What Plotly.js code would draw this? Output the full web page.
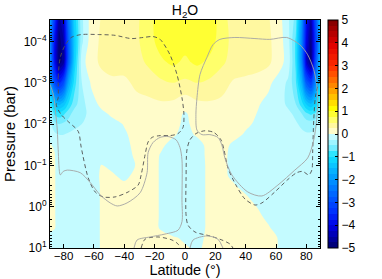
<!DOCTYPE html>
<html>
<head>
<meta charset="utf-8">
<script src="https://cdn.plot.ly/plotly-3.0.1.min.js"></script>
<style>
html,body{margin:0;padding:0;background:#fff;}
#chart{width:382px;height:279px;}
</style>
</head>
<body>
<div id="chart"></div>
<script>
// ---- data ----
var latitude = [-89,-86,-83,-80,-77,-73,-68,-62,-55,-48,-40,-32,-24,-16,-8,0,8,16,24,32,40,48,55,62,68,73,77,80,83,86,89];
var pressure = [10,5.6,3.2,1.8,1,0.56,0.32,0.18,0.1,0.056,0.032,0.018,0.01,0.0056,0.0032,0.001,0.00032,0.0001,0.00003];
var h2o = [
 [-0.10,-0.15,-0.15,-0.15,-0.15,-0.15,-0.15,-0.10, 0.02, 0.10, 0.10, 0.10, 0.10, 0.10, 0.05, 0.02,-0.03, 0.05, 0.10, 0.10, 0.10, 0.10, 0.05,-0.01,-0.10,-0.15,-0.15,-0.15,-0.15,-0.15,-0.15],
 [-0.05,-0.10,-0.15,-0.15,-0.15,-0.15,-0.15,-0.10, 0.02, 0.10, 0.10, 0.10, 0.10, 0.06, 0.02,-0.03,-0.05, 0.04, 0.10, 0.10, 0.10, 0.10, 0.05,-0.01,-0.10,-0.15,-0.15,-0.15,-0.15,-0.15,-0.15],
 [ 0.05, 0.02,-0.10,-0.15,-0.15,-0.15,-0.15,-0.10, 0.02, 0.10, 0.10, 0.10, 0.10,-0.02,-0.12,-0.12,-0.10, 0.05, 0.10, 0.10, 0.10, 0.08, 0.02,-0.10,-0.15,-0.15,-0.15,-0.15,-0.15,-0.15,-0.15],
 [ 0.05, 0.02,-0.10,-0.15,-0.15,-0.15,-0.15,-0.10, 0.02, 0.10, 0.10, 0.10, 0.10,-0.02,-0.12,-0.12,-0.10, 0.05, 0.10, 0.10, 0.10, 0.05,-0.05,-0.12,-0.15,-0.15,-0.15,-0.15,-0.15,-0.15,-0.15],
 [ 0.05, 0.02,-0.10,-0.15,-0.15,-0.15,-0.15,-0.10, 0.02, 0.10, 0.10, 0.10, 0.10,-0.02,-0.12,-0.12,-0.10, 0.05, 0.10, 0.10, 0.08,-0.01,-0.10,-0.12,-0.15,-0.15,-0.15,-0.15,-0.15,-0.15,-0.15],
 [ 0.05, 0.02,-0.10,-0.15,-0.15,-0.15,-0.15,-0.10, 0.02, 0.10, 0.10, 0.10, 0.10,-0.02,-0.12,-0.12,-0.10, 0.05, 0.10, 0.08, 0.02,-0.10,-0.12,-0.12,-0.15,-0.15,-0.15,-0.15,-0.15,-0.15,-0.15],
 [ 0.05, 0.02,-0.10,-0.15,-0.15,-0.15,-0.15,-0.10, 0.02, 0.08, 0.05, 0.10, 0.10,-0.02,-0.12,-0.12,-0.10, 0.05, 0.08, 0.03,-0.08,-0.12,-0.12,-0.12,-0.15,-0.15,-0.15,-0.15,-0.15,-0.15,-0.15],
 [ 0.05, 0.02,-0.10,-0.15,-0.15,-0.15,-0.15,-0.10, 0.03, 0.03,-0.05, 0.06, 0.10,-0.02,-0.12,-0.12,-0.10, 0.05, 0.06,-0.05,-0.12,-0.12,-0.12,-0.12,-0.15,-0.15,-0.15,-0.15,-0.15,-0.15,-0.15],
 [ 0.05, 0.02,-0.10,-0.15,-0.15,-0.15,-0.15,-0.10, 0.01,-0.05,-0.08, 0.01, 0.10,-0.02,-0.12,-0.12,-0.10, 0.05, 0.05,-0.05,-0.12,-0.12,-0.12,-0.12,-0.15,-0.15,-0.15,-0.15,-0.15,-0.15,-0.15],
 [ 0.04, 0.01,-0.12,-0.15,-0.15,-0.15,-0.15,-0.15,-0.10,-0.08,-0.04, 0.02, 0.08,-0.01,-0.10,-0.10,-0.08, 0.05, 0.05,-0.05,-0.12,-0.12,-0.12,-0.12,-0.15,-0.15,-0.15,-0.15,-0.15,-0.15,-0.15],
 [ 0.01,-0.02,-0.15,-0.18,-0.18,-0.16,-0.15,-0.15,-0.12,-0.10,-0.03, 0.03, 0.10, 0.03,-0.05,-0.08,-0.06, 0.05, 0.06,-0.03,-0.12,-0.12,-0.12,-0.12,-0.15,-0.15,-0.15,-0.18,-0.18,-0.18,-0.15],
 [-0.10,-0.20,-0.25,-0.25,-0.22,-0.20,-0.18,-0.15,-0.12,-0.08,-0.02, 0.05, 0.10, 0.10, 0.02,-0.05, 0.02, 0.10, 0.10, 0.05,-0.02,-0.12,-0.12,-0.15,-0.15,-0.18,-0.20,-0.22,-0.22,-0.20,-0.15],
 [-0.20,-0.40,-0.50,-0.45,-0.40,-0.30,-0.25,-0.20,-0.15,-0.05, 0.01, 0.08, 0.12, 0.12, 0.05,-0.03, 0.05, 0.12, 0.12, 0.10, 0.03,-0.03,-0.12,-0.15,-0.18,-0.22,-0.30,-0.35,-0.35,-0.30,-0.20],
 [-0.40,-0.80,-0.90,-0.80,-0.60,-0.40,-0.30,-0.20,-0.04, 0.03, 0.08, 0.12, 0.15, 0.15, 0.08,-0.02, 0.08, 0.15, 0.15, 0.12, 0.08,-0.01,-0.10,-0.15,-0.20,-0.30,-0.50,-0.70,-0.80,-0.70,-0.40],
 [-0.80,-1.40,-1.60,-1.40,-1.00,-0.60,-0.35,-0.08, 0.05, 0.12, 0.15, 0.18, 0.20, 0.22, 0.20, 0.10, 0.20, 0.22, 0.20, 0.18, 0.12, 0.02,-0.06,-0.15,-0.30,-0.50,-0.90,-1.30,-1.50,-1.20,-0.70],
 [-1.80,-3.00,-3.50,-3.00,-1.80,-0.90,-0.25, 0.02, 0.15, 0.20, 0.20, 0.30, 0.35, 0.45, 0.50, 0.45, 0.50, 0.45, 0.35, 0.22, 0.20, 0.20, 0.05,-0.10,-0.30,-0.70,-1.60,-2.80,-3.20,-2.20,-1.20],
 [-2.00,-3.80,-4.90,-4.60,-2.80,-1.20,-0.10, 0.15, 0.30, 0.35, 0.35, 0.40, 0.55, 0.70, 0.80, 0.70, 0.80, 0.70, 0.55, 0.40, 0.35, 0.30, 0.30, 0.10,-0.10,-0.80,-2.20,-4.20,-4.80,-3.00,-1.50],
 [-2.00,-3.80,-4.90,-4.50,-2.80,-1.30,-0.30, 0.12, 0.30, 0.35, 0.40, 0.45, 0.65, 0.85, 0.90, 0.85, 0.90, 0.85, 0.65, 0.40, 0.35, 0.35, 0.30, 0.12,-0.15,-0.80,-2.20,-4.00,-4.80,-3.30,-1.80],
 [-1.80,-3.30,-4.60,-4.20,-2.50,-1.20,-0.30, 0.10, 0.27, 0.30, 0.35, 0.45, 0.65, 0.90, 0.95, 0.90, 0.95, 0.90, 0.65, 0.35, 0.30, 0.30, 0.27, 0.10,-0.20,-0.60,-2.00,-3.80,-4.50,-3.00,-1.50]
];

// overlaid contour lines (latitude in degrees, pressure in bar)
var dashLoopLat = [-83.6,-83.6,-82.2,-78.9,-75.0,-68.4,-57.2,-46.1,-35.5,-27.6,-21.1,-16.4,-9.9,-5.3,-2.0,-0.7,-1.3,-4.6,-9.9,-16.4,-21.7,-24.3,-26.3,-28.9,-30.9,-37.5,-46.1,-53.9,-59.2,-63.8,-68.4,-70.4,-77.0,-81.6,-84.9,-83.6];
var dashLoopP = [2.3e-3,7.4e-4,2.4e-4,1.2e-4,8.0e-5,6.8e-5,6.8e-5,7.1e-5,8.5e-5,8.0e-5,7.6e-5,8.9e-5,2.1e-4,6.3e-4,2.3e-3,5.9e-3,1.2e-2,1.7e-2,1.9e-2,1.9e-2,2.1e-2,2.7e-2,5.5e-2,0.17,0.30,0.44,0.58,0.58,0.44,0.20,3.7e-2,1.5e-2,8.7e-3,5.9e-3,3.4e-3,2.3e-3];
var dashRightLat = [89,86.2,84.9,84.2,83.6,81.6,77.6,73.7,67.8,59.2,50.7,46.1,39.5,33.6,28.3,25.7,23.7,19.1,13.2,7.2,3.3,1.3,0.7,0.7,2.0,6.6,16.4,24.3,29.6,31.6];
var dashRightP = [8.5e-4,1.9e-3,7.8e-3,4.2e-2,0.13,0.17,0.14,0.15,0.22,0.44,0.81,0.91,0.65,0.30,0.115,4.2e-2,2.4e-2,1.6e-2,1.45e-2,1.7e-2,2.4e-2,4.2e-2,0.22,1.58,2.8,4.1,5.1,6.4,8.0,10];
var dashSmallLat = [-28.9,-26.3,-17.8,-8.6,-4.6,-3.3];
var dashSmallP = [10,6.1,5.4,6.4,8.0,10];
var solidLeftLat = [-89,-86.8,-85.5,-84.2,-83.6,-82.2,-80.3,-77.6,-69.1,-62.5,-55.9,-49.3,-44.7,-38.2,-29.6,-25.0,-24.3,-21.1,-16.4,-11.2,-5.9,-3.3,-2.0,-2.0,-2.0,-4.6,-13.2,-23.0,-31.6,-33.6];
var solidLeftP = [1.1e-3,1.9e-3,4.5e-3,1.4e-2,4.2e-2,0.17,0.14,0.13,0.15,0.26,0.52,0.81,0.96,0.81,0.46,0.15,4.9e-2,2.8e-2,2.1e-2,2.0e-2,2.4e-2,3.7e-2,7.3e-2,0.68,2.3,3.7,4.6,5.4,6.4,10];
var solidLoopLat = [7.9,9.9,14.5,18.4,23.0,32.9,46.1,55.9,67.1,75.7,80.9,84.9,86.8,87.5,86.8,84.9,80.9,72.4,61.2,50.7,41.4,30.9,26.3,24.3,21.7,16.4,11.2,7.9,7.2,7.9];
var solidLoopP = [2.3e-3,6.3e-4,2.4e-4,1.2e-4,8.9e-5,8.0e-5,8.5e-5,8.9e-5,8.0e-5,1.2e-4,2.1e-4,4.8e-4,1.1e-3,2.6e-3,7.8e-3,2.4e-2,6.6e-2,0.13,0.30,0.55,0.44,0.17,6.6e-2,3.2e-2,2.1e-2,1.8e-2,1.8e-2,1.4e-2,5.9e-3,2.3e-3];
var solidSmallLat = [3.3,5.3,14.5,21.7,25.0];
var solidSmallP = [10,6.4,5.1,6.1,10];

var xTickVals = [-80,-60,-40,-20,0,20,40,60,80];
var yTickVals = [10,1,0.1,0.01,0.001,0.0001];
var yTickText = ['10<sup>1</sup>','10<sup>0</sup>','10<sup>\u22121</sup>','10<sup>\u22122</sup>','10<sup>\u22123</sup>','10<sup>\u22124</sup>'];
var cbTickVals = [-5,-4,-3,-2,-1,0,1,2,3,4,5];

// ---- colour scale (value -> colour), mapped onto contour level span ----
var cStart = -5, cEnd = 5, cSize = 0.25;
var stops = [
 [-5.125,'#00006a'],[-4.625,'#0000a8'],[-4.125,'#0000e6'],[-3.5,'#0030ff'],[-3.0,'#0050ff'],
 [-2.0,'#009aff'],[-1.0,'#12e2ff'],[-0.625,'#78ecff'],[-0.375,'#a0f4ff'],[-0.125,'#c4fbff'],
 [0,'#f4fff0'],[0.125,'#fffcca'],[0.375,'#fff8a2'],[0.625,'#ffff6e'],[0.875,'#ffff38'],
 [1.125,'#ffff00'],[2.0,'#ff9a00'],[3.0,'#ff3000'],[4.0,'#e00000'],[5.125,'#7f0000']
];
var lo = cStart - cSize/2, hi = cEnd + cSize/2;
var colorscale = stops.map(function(s){ return [(s[0]-lo)/(hi-lo), s[1]]; });

var minorY = [];
for (var e = -5; e <= 1; e++) for (var m = 2; m <= 9; m++) minorY.push(m*Math.pow(10,e));

var FONT = 'Liberation Sans, Arial, Helvetica, sans-serif';
function line(x, y, dash, color){
  return {type:'scatter', mode:'lines', x:x, y:y, hoverinfo:'skip', showlegend:false,
          line:{color:color, width:0.9, dash:dash, shape:'spline', smoothing:0.8}};
}

var traces = [
 {type:'contour', x:latitude, y:pressure, z:h2o, zmin:-5, zmax:5,
  autocontour:false, contours:{start:cStart, end:cEnd, size:cSize, coloring:'fill', showlines:false},
  line:{width:0}, colorscale:colorscale, hoverinfo:'skip',
  colorbar:{x:1.03, xanchor:'left', xpad:0, ypad:0, y:0.5, yanchor:'middle', len:1, lenmode:'fraction',
            thickness:10, outlinewidth:1, outlinecolor:'#000', tickmode:'array', tickvals:cbTickVals,
            ticks:'inside', ticklen:3, tickcolor:'#000', tickfont:{family:FONT, size:12, color:'#000'}}},
 line(dashLoopLat, dashLoopP, '4px,3px', '#505050'),
 line(dashRightLat, dashRightP, '4px,3px', '#505050'),
 line(dashSmallLat, dashSmallP, '4px,3px', '#505050'),
 line(solidLeftLat, solidLeftP, 'solid', '#a4a4a4'),
 line(solidLoopLat, solidLoopP, 'solid', '#a4a4a4'),
 line(solidSmallLat, solidSmallP, 'solid', '#a4a4a4')
];

var layout = {
  width:382, height:279,
  margin:{l:50, r:62, t:20, b:31, pad:0},
  paper_bgcolor:'#fff', plot_bgcolor:'#fff',
  font:{family:FONT, size:12, color:'#000'},
  showlegend:false,
  title:{text:'H<sub>2</sub>O', font:{family:FONT, size:14, color:'#000'}, xref:'paper', x:0.5, xanchor:'center',
         yref:'container', y:0.965, yanchor:'middle'},
  xaxis:{range:[-89,89], tickmode:'array', tickvals:xTickVals, ticks:'inside', ticklen:4, tickcolor:'#000',
         showline:true, linecolor:'#000', linewidth:1, mirror:'allticks', showgrid:false, zeroline:false,
         tickfont:{family:FONT, size:11.5}, automargin:false, ticklabelstandoff:-3,
         title:{text:'Latitude (\u00b0)', font:{family:FONT, size:14.5}, standoff:1}},
  yaxis:{type:'log', range:[1,-4.52], autorange:false, tickmode:'array', tickvals:yTickVals, ticktext:yTickText,
         ticks:'inside', ticklen:4, tickcolor:'#000', showline:true, linecolor:'#000', linewidth:1,
         mirror:'allticks', showgrid:false, zeroline:false, tickfont:{family:FONT, size:12}, automargin:false,
         minor:{tickmode:'array', tickvals:minorY, ticks:'inside', ticklen:2, tickcolor:'#000', showgrid:false},
         title:{text:'Pressure (bar)', font:{family:FONT, size:15}, standoff:4}}
};

Plotly.newPlot('chart', traces, layout, {displayModeBar:false, staticPlot:true});
</script>
</body>
</html>
